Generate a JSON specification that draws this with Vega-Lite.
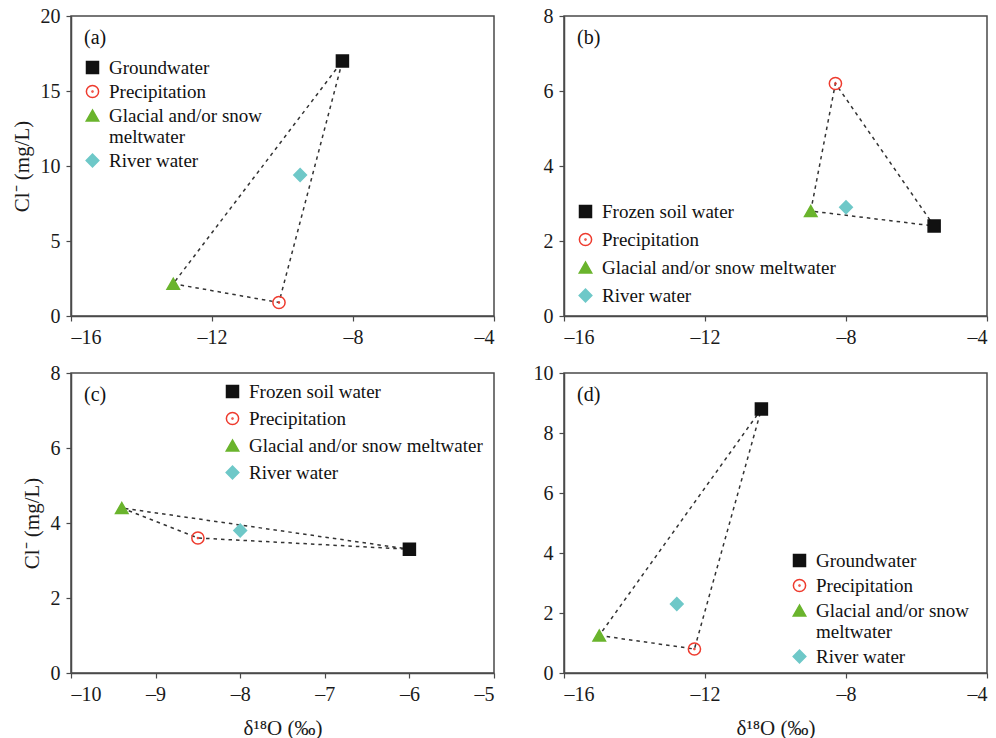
{
  "$schema": "https://vega.github.io/schema/vega-lite/v6.json",
  "background": "white",
  "padding": {"left": 10, "top": 5, "right": 5, "bottom": 5},
  "datasets": {
    "pts": [
      {"panel": "a", "source": "Groundwater", "d18O": -8.3, "Cl": 17.0},
      {"panel": "a", "source": "Precipitation", "d18O": -10.1, "Cl": 0.9},
      {"panel": "a", "source": "Glacial and/or snow meltwater", "d18O": -13.1, "Cl": 2.15},
      {"panel": "a", "source": "River water", "d18O": -9.5, "Cl": 9.4},
      {"panel": "b", "source": "Frozen soil water", "d18O": -5.5, "Cl": 2.4},
      {"panel": "b", "source": "Precipitation", "d18O": -8.3, "Cl": 6.2},
      {"panel": "b", "source": "Glacial and/or snow meltwater", "d18O": -9.0, "Cl": 2.8},
      {"panel": "b", "source": "River water", "d18O": -8.0, "Cl": 2.9},
      {"panel": "c", "source": "Frozen soil water", "d18O": -6.0, "Cl": 3.3},
      {"panel": "c", "source": "Precipitation", "d18O": -8.5, "Cl": 3.6},
      {"panel": "c", "source": "Glacial and/or snow meltwater", "d18O": -9.4, "Cl": 4.4},
      {"panel": "c", "source": "River water", "d18O": -8.0, "Cl": 3.8},
      {"panel": "d", "source": "Groundwater", "d18O": -10.4, "Cl": 8.8},
      {"panel": "d", "source": "Precipitation", "d18O": -12.3, "Cl": 0.8},
      {"panel": "d", "source": "Glacial and/or snow meltwater", "d18O": -15.0, "Cl": 1.25},
      {"panel": "d", "source": "River water", "d18O": -12.8, "Cl": 2.3}
    ]
  },
  "columns": 2,
  "spacing": {"column": 70, "row": 57},
  "bounds": "flush",
  "resolve": {
    "scale": {"x": "independent", "y": "independent", "fill": "independent", "stroke": "independent", "shape": "independent", "size": "independent"},
    "legend": {"fill": "independent", "stroke": "independent", "shape": "independent", "size": "independent"}
  },
  "config": {
    "font": "Liberation Serif",
    "view": {"stroke": "#4a4a4a", "strokeWidth": 1.5},
    "axis": {
      "grid": false, "domainColor": "#4a4a4a", "domainWidth": 1.5, "tickColor": "#4a4a4a", "tickWidth": 1.2, "tickSize": 5,
      "labelFont": "Liberation Serif", "labelFontSize": 20, "labelColor": "#1a1a1a", "labelPadding": 6,
      "labelExpr": "datum.value < 0 ? '–' + format(-datum.value, 'd') : format(datum.value, 'd')",
      "titleFont": "Liberation Serif", "titleFontSize": 21, "titleFontWeight": "normal", "titleColor": "#1a1a1a"
    },
    "axisY": {"titlePadding": 8},
    "axisX": {"titlePadding": 13},
    "legend": {
      "orient": "none", "title": null, "padding": 0, "labelLimit": 500,
      "labelFont": "Liberation Serif", "labelFontSize": 19, "labelColor": "#111", "labelOffset": 7,
      "symbolStrokeWidth": 1.5, "symbolOpacity": 1
    },
    "title": {"font": "Liberation Serif", "fontSize": 20, "fontWeight": "normal", "color": "#111", "anchor": "start", "frame": "group", "baseline": "bottom"}
  },
  "concat": [
    {
      "width": 423, "height": 300,
      "title": {"text": "(a)", "offset": -42, "dx": 13},
      "data": {"name": "pts"},
      "transform": [{"filter": "datum.panel == 'a'"}],
      "encoding": {
        "x": {"field": "d18O", "type": "quantitative", "scale": {"domain": [-16, -4], "nice": false, "zero": false}, "axis": {"values": [-16, -12, -8, -4], "title": null}},
        "y": {"field": "Cl", "type": "quantitative", "scale": {"domain": [0, 20], "nice": false}, "axis": {"values": [0, 5, 10, 15, 20], "title": "Cl⁻ (mg/L)"}}
      },
      "layer": [
        {"transform": [{"filter": "datum.source != 'River water'"}], "mark": {"type": "line", "interpolate": "linear-closed", "stroke": "#333", "strokeWidth": 1.5, "strokeDash": [3.5, 4]}},
        {
          "mark": {"type": "point", "opacity": 1, "strokeWidth": 1.5},
          "encoding": {
            "fill": {"field": "source", "type": "nominal", "scale": {"domain": ["Groundwater", "Precipitation", "Glacial and/or snow meltwater", "River water"], "range": ["#111111", "transparent", "#6ab42d", "#6ec8c8"]},
              "legend": {"legendX": 12, "legendY": 42, "rowPadding": 4, "labelExpr": "datum.label == 'Glacial and/or snow meltwater' ? ['Glacial and/or snow', 'meltwater'] : datum.label"}},
            "stroke": {"field": "source", "type": "nominal", "scale": {"domain": ["Groundwater", "Precipitation", "Glacial and/or snow meltwater", "River water"], "range": ["#111111", "#ee3b2e", "#6ab42d", "#6ec8c8"]}},
            "shape": {"field": "source", "type": "nominal", "scale": {"domain": ["Groundwater", "Precipitation", "Glacial and/or snow meltwater", "River water"], "range": ["square", "M-1,0A1,1,0,1,1,1,0A1,1,0,1,1,-1,0ZM-0.08,0A0.08,0.08,0,1,1,0.08,0A0.08,0.08,0,1,1,-0.08,0Z", "triangle-up", "diamond"]}},
            "size": {"field": "source", "type": "nominal", "scale": {"domain": ["Groundwater", "Precipitation", "Glacial and/or snow meltwater", "River water"], "range": [144, 160, 289, 324]}}
          }
        }
      ]
    },
    {
      "width": 423, "height": 300,
      "title": {"text": "(b)", "offset": -42, "dx": 13},
      "data": {"name": "pts"},
      "transform": [{"filter": "datum.panel == 'b'"}],
      "encoding": {
        "x": {"field": "d18O", "type": "quantitative", "scale": {"domain": [-16, -4], "nice": false, "zero": false}, "axis": {"values": [-16, -12, -8, -4], "title": null}},
        "y": {"field": "Cl", "type": "quantitative", "scale": {"domain": [0, 8], "nice": false}, "axis": {"values": [0, 2, 4, 6, 8], "title": null}}
      },
      "layer": [
        {"transform": [{"filter": "datum.source != 'River water'"}], "mark": {"type": "line", "interpolate": "linear-closed", "stroke": "#333", "strokeWidth": 1.5, "strokeDash": [3.5, 4]}},
        {
          "mark": {"type": "point", "opacity": 1, "strokeWidth": 1.5},
          "encoding": {
            "fill": {"field": "source", "type": "nominal", "scale": {"domain": ["Frozen soil water", "Precipitation", "Glacial and/or snow meltwater", "River water"], "range": ["#111111", "transparent", "#6ab42d", "#6ec8c8"]},
              "legend": {"legendX": 12, "legendY": 186, "rowPadding": 8}},
            "stroke": {"field": "source", "type": "nominal", "scale": {"domain": ["Frozen soil water", "Precipitation", "Glacial and/or snow meltwater", "River water"], "range": ["#111111", "#ee3b2e", "#6ab42d", "#6ec8c8"]}},
            "shape": {"field": "source", "type": "nominal", "scale": {"domain": ["Frozen soil water", "Precipitation", "Glacial and/or snow meltwater", "River water"], "range": ["square", "M-1,0A1,1,0,1,1,1,0A1,1,0,1,1,-1,0ZM-0.08,0A0.08,0.08,0,1,1,0.08,0A0.08,0.08,0,1,1,-0.08,0Z", "triangle-up", "diamond"]}},
            "size": {"field": "source", "type": "nominal", "scale": {"domain": ["Frozen soil water", "Precipitation", "Glacial and/or snow meltwater", "River water"], "range": [144, 160, 289, 324]}}
          }
        }
      ]
    },
    {
      "width": 423, "height": 300,
      "title": {"text": "(c)", "offset": -42, "dx": 13},
      "data": {"name": "pts"},
      "transform": [{"filter": "datum.panel == 'c'"}],
      "encoding": {
        "x": {"field": "d18O", "type": "quantitative", "scale": {"domain": [-10, -5], "nice": false, "zero": false}, "axis": {"values": [-10, -9, -8, -7, -6, -5], "title": "δ¹⁸O (‰)"}},
        "y": {"field": "Cl", "type": "quantitative", "scale": {"domain": [0, 8], "nice": false}, "axis": {"values": [0, 2, 4, 6, 8], "title": "Cl⁻ (mg/L)"}}
      },
      "layer": [
        {"transform": [{"filter": "datum.source != 'River water'"}], "mark": {"type": "line", "interpolate": "linear-closed", "stroke": "#333", "strokeWidth": 1.5, "strokeDash": [3.5, 4]}},
        {
          "mark": {"type": "point", "opacity": 1, "strokeWidth": 1.5},
          "encoding": {
            "fill": {"field": "source", "type": "nominal", "scale": {"domain": ["Frozen soil water", "Precipitation", "Glacial and/or snow meltwater", "River water"], "range": ["#111111", "transparent", "#6ab42d", "#6ec8c8"]},
              "legend": {"legendX": 152, "legendY": 9, "rowPadding": 7}},
            "stroke": {"field": "source", "type": "nominal", "scale": {"domain": ["Frozen soil water", "Precipitation", "Glacial and/or snow meltwater", "River water"], "range": ["#111111", "#ee3b2e", "#6ab42d", "#6ec8c8"]}},
            "shape": {"field": "source", "type": "nominal", "scale": {"domain": ["Frozen soil water", "Precipitation", "Glacial and/or snow meltwater", "River water"], "range": ["square", "M-1,0A1,1,0,1,1,1,0A1,1,0,1,1,-1,0ZM-0.08,0A0.08,0.08,0,1,1,0.08,0A0.08,0.08,0,1,1,-0.08,0Z", "triangle-up", "diamond"]}},
            "size": {"field": "source", "type": "nominal", "scale": {"domain": ["Frozen soil water", "Precipitation", "Glacial and/or snow meltwater", "River water"], "range": [144, 160, 289, 324]}}
          }
        }
      ]
    },
    {
      "width": 423, "height": 300,
      "title": {"text": "(d)", "offset": -42, "dx": 13},
      "data": {"name": "pts"},
      "transform": [{"filter": "datum.panel == 'd'"}],
      "encoding": {
        "x": {"field": "d18O", "type": "quantitative", "scale": {"domain": [-16, -4], "nice": false, "zero": false}, "axis": {"values": [-16, -12, -8, -4], "title": "δ¹⁸O (‰)"}},
        "y": {"field": "Cl", "type": "quantitative", "scale": {"domain": [0, 10], "nice": false}, "axis": {"values": [0, 2, 4, 6, 8, 10], "title": null}}
      },
      "layer": [
        {"transform": [{"filter": "datum.source != 'River water'"}], "mark": {"type": "line", "interpolate": "linear-closed", "stroke": "#333", "strokeWidth": 1.5, "strokeDash": [3.5, 4]}},
        {
          "mark": {"type": "point", "opacity": 1, "strokeWidth": 1.5},
          "encoding": {
            "fill": {"field": "source", "type": "nominal", "scale": {"domain": ["Groundwater", "Precipitation", "Glacial and/or snow meltwater", "River water"], "range": ["#111111", "transparent", "#6ab42d", "#6ec8c8"]},
              "legend": {"legendX": 226, "legendY": 178, "rowPadding": 5, "labelExpr": "datum.label == 'Glacial and/or snow meltwater' ? ['Glacial and/or snow', 'meltwater'] : datum.label"}},
            "stroke": {"field": "source", "type": "nominal", "scale": {"domain": ["Groundwater", "Precipitation", "Glacial and/or snow meltwater", "River water"], "range": ["#111111", "#ee3b2e", "#6ab42d", "#6ec8c8"]}},
            "shape": {"field": "source", "type": "nominal", "scale": {"domain": ["Groundwater", "Precipitation", "Glacial and/or snow meltwater", "River water"], "range": ["square", "M-1,0A1,1,0,1,1,1,0A1,1,0,1,1,-1,0ZM-0.08,0A0.08,0.08,0,1,1,0.08,0A0.08,0.08,0,1,1,-0.08,0Z", "triangle-up", "diamond"]}},
            "size": {"field": "source", "type": "nominal", "scale": {"domain": ["Groundwater", "Precipitation", "Glacial and/or snow meltwater", "River water"], "range": [144, 160, 289, 324]}}
          }
        }
      ]
    }
  ]
}
